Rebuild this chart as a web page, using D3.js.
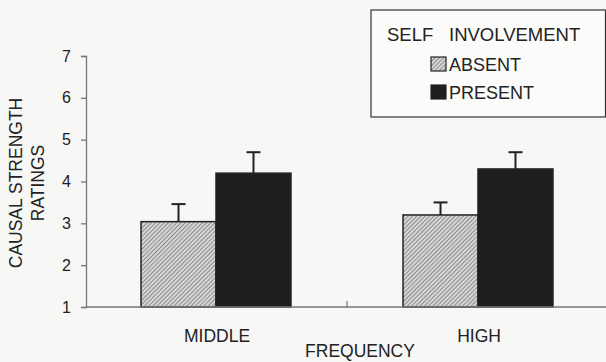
<!DOCTYPE html>
<html><head><meta charset="utf-8">
<script src="https://cdn.jsdelivr.net/npm/d3@7"></script>
<style>html,body{margin:0;padding:0;background:#f7f7f5;}svg{display:block;}</style>
</head><body>
<svg id="c" width="606" height="362"></svg>
<script>
const categories = ["MIDDLE", "HIGH"];
const series = ["ABSENT", "PRESENT"];
const absentValues = [3.04, 3.20];
const presentValues = [4.20, 4.30];
const absentErrors = [0.42, 0.30];
const presentErrors = [0.50, 0.40];
const yTicks = [1, 2, 3, 4, 5, 6, 7];

const svg = d3.select("#c");
const font = "Liberation Sans, Arial, sans-serif";
const ink = "#222";

const defs = svg.append("defs");
const pat = defs.append("pattern").attr("id", "hatch").attr("patternUnits", "userSpaceOnUse")
  .attr("width", 3).attr("height", 3).attr("patternTransform", "rotate(45)");
pat.append("rect").attr("width", 3).attr("height", 3).attr("fill", "#d6d6d6");
pat.append("line").attr("x1", 0).attr("y1", 0).attr("x2", 0).attr("y2", 3)
  .attr("stroke", "#666").attr("stroke-width", 1.3);

const y = d3.scaleLinear().domain([1, 7]).range([307, 56]);
const x0 = d3.scaleBand().domain(categories).range([85, 609]).padding(0);
const x1 = d3.scaleBand().domain(series).range([0, x0.bandwidth()]).paddingInner(0).paddingOuter(0.747);

const data = categories.map((c, i) => ({
  cat: c,
  vals: [
    {s: "ABSENT", v: absentValues[i], e: absentErrors[i]},
    {s: "PRESENT", v: presentValues[i], e: presentErrors[i]}
  ]
}));

// bars
const g = svg.append("g");
data.forEach(d => {
  d.vals.forEach(b => {
    const bx = x0(d.cat) + x1(b.s);
    const cx = bx + x1.bandwidth() / 2;
    g.append("line").attr("x1", cx).attr("x2", cx).attr("y1", y(b.v)).attr("y2", y(b.v + b.e))
      .attr("stroke", ink).attr("stroke-width", 2);
    g.append("line").attr("x1", cx - 7).attr("x2", cx + 7).attr("y1", y(b.v + b.e)).attr("y2", y(b.v + b.e))
      .attr("stroke", ink).attr("stroke-width", 2);
    g.append("rect").attr("x", bx).attr("y", y(b.v)).attr("width", x1.bandwidth()).attr("height", y(1) - y(b.v))
      .attr("fill", b.s === "ABSENT" ? "url(#hatch)" : "#1e1e1e")
      .attr("stroke", ink).attr("stroke-width", 1.5);
  });
});

// y axis
const ya = svg.append("g").attr("transform", "translate(86,0)")
  .call(d3.axisLeft(y).tickValues(yTicks).tickSize(5).tickPadding(10).tickFormat(d3.format("d")));
ya.select(".domain").attr("stroke", "#777").attr("stroke-width", 1.3);
ya.selectAll(".tick line").attr("stroke", "#777").attr("stroke-width", 1.3);
ya.selectAll("text").attr("font-family", font).attr("font-size", 16).attr("fill", ink);

// x axis line
svg.append("line").attr("x1", 86).attr("x2", 606).attr("y1", y(1)).attr("y2", y(1))
  .attr("stroke", "#777").attr("stroke-width", 1.3);
// divider tick
const mid = x0("HIGH");
svg.append("line").attr("x1", mid).attr("x2", mid).attr("y1", y(1) - 6).attr("y2", y(1))
  .attr("stroke", "#777").attr("stroke-width", 1.2);

// category labels
categories.forEach(c => {
  svg.append("text").attr("x", x0(c) + x0.bandwidth() / 2 + 1).attr("y", 342)
    .attr("text-anchor", "middle").attr("font-family", font).attr("font-size", 17.5).attr("fill", ink).text(c);
});
svg.append("text").attr("x", 360).attr("y", 357).attr("text-anchor", "middle")
  .attr("font-family", font).attr("font-size", 17.5).attr("fill", ink).text("FREQUENCY");

// y title
const yt = svg.append("text").attr("transform", "translate(0,183) rotate(-90)")
  .attr("text-anchor", "middle").attr("font-family", font).attr("font-size", 17.5).attr("fill", ink);
yt.append("tspan").attr("x", 0).attr("y", 22).text("CAUSAL STRENGTH");
yt.append("tspan").attr("x", 0).attr("y", 44).text("RATINGS");

// legend
const lg = svg.append("g");
lg.append("rect").attr("x", 371).attr("y", 10).attr("width", 234.5).attr("height", 107)
  .attr("fill", "#fbfbf9").attr("stroke", "#333").attr("stroke-width", 1.2);
lg.append("text").attr("x", 387).attr("y", 41).attr("font-family", font).attr("font-size", 18.5).attr("fill", ink).text("SELF");
lg.append("text").attr("x", 449).attr("y", 41).attr("font-family", font).attr("font-size", 18.5).attr("fill", ink).text("INVOLVEMENT");
series.forEach((s, i) => {
  const yy = 57 + i * 28;
  lg.append("rect").attr("x", 431).attr("y", yy).attr("width", 15).attr("height", 14)
    .attr("fill", s === "ABSENT" ? "url(#hatch)" : "#1e1e1e").attr("stroke", ink).attr("stroke-width", 1.2);
  lg.append("text").attr("x", 449).attr("y", yy + 13.5).attr("font-family", font).attr("font-size", 18).attr("fill", ink).text(s);
});
</script>
</body></html>
